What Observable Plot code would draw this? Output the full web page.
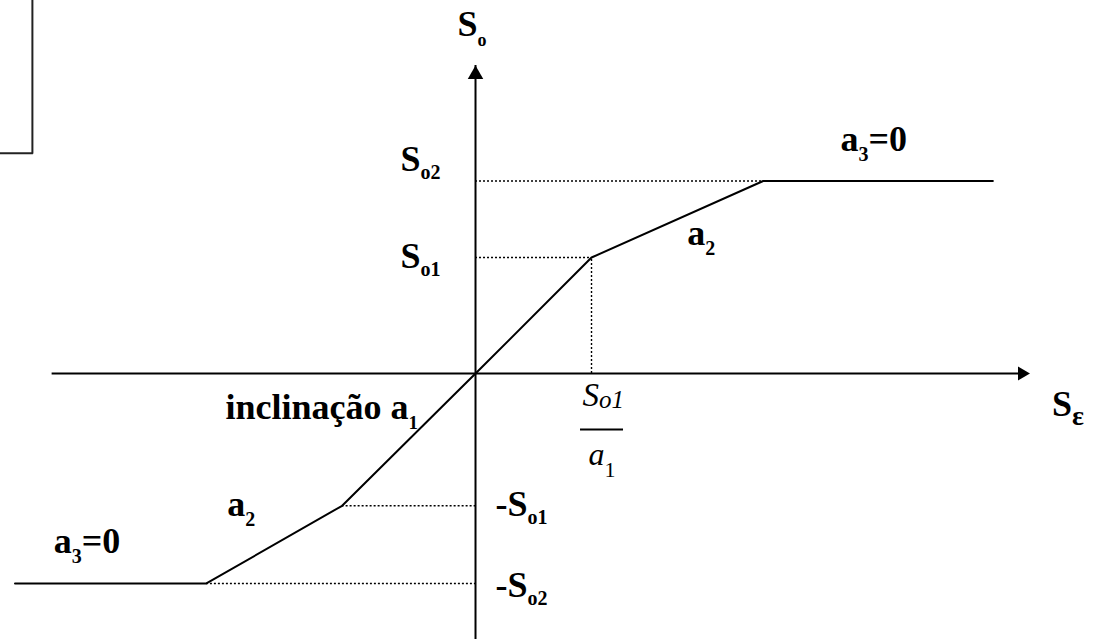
<!DOCTYPE html>
<html>
<head>
<meta charset="utf-8">
<script src="https://cdn.jsdelivr.net/npm/d3@7"></script>
<script src="https://cdn.jsdelivr.net/npm/@observablehq/plot@0.6"></script>
<style>
  html, body { margin: 0; padding: 0; background: #fff; }
</style>
</head>
<body>
<div id="chart"></div>
<script>
// Saturating piecewise-linear characteristic: output S_o versus input S_ε.
const So1 = 1, So2 = 1.66;               // positive output levels
const negSo1 = -1.14, negSo2 = -1.81;    // negative output levels
const eps1 = 1;                          // breakpoint S_o1 / a_1
const curveEps = [-3.97, -2.32, -1.15, 0, 1, 2.48, 4.46];
const curveOut = [-1.81, -1.81, -1.14, 0, 1, 1.66, 1.66];
const xAxisSpan = [-3.65, 4.78];
const yAxisSpan = [-2.3, 2.655];
const boxCorner = [-3.82, 1.9];          // lower-right corner of the inset box
const xDomain = [-4.095, 5.362];
const yDomain = [-2.293, 3.216];

const levelLabels = ["S_{o2}", "S_{o1}", "-S_{o1}", "-S_{o2}"];
const axisLabels = ["S_{o}", "S_{ε}"];
const slopeLabels = ["inclinação a_{1}", "a_{2}", "a_{3}=0"];
const fracLabels = ["S_{o1}", "a_{1}"];

const serif = "Liberation Serif";
const mid = (a, b) => (a + b) / 2;
const curve = curveEps.map((x, i) => ({x, y: curveOut[i]}));

// dotted projections onto the axes
const guidesH = [
  {x1: 0, x2: curveEps[5], y: So2},
  {x1: 0, x2: eps1, y: So1},
  {x1: curveEps[2], x2: 0, y: negSo1},
  {x1: curveEps[1], x2: 0, y: negSo2}
];

// text labels with their offsets and subscript styling
const labels = [
  {text: axisLabels[0], x: 0, y: yAxisSpan[1], dx: -18, dy: -30, size: 36, sub: 18, drop: 10},
  {text: levelLabels[0], x: 0, y: So2, dx: -75, dy: -10, size: 36, sub: 20, drop: 8},
  {text: levelLabels[1], x: 0, y: So1, dx: -75, dy: 10, size: 36, sub: 20, drop: 8},
  {text: levelLabels[2], x: 0, y: negSo1, dx: 20, dy: 10, size: 36, sub: 20, drop: 8},
  {text: levelLabels[3], x: 0, y: negSo2, dx: 20, dy: 14, size: 36, sub: 20, drop: 8},
  {text: axisLabels[1], x: xAxisSpan[1], y: 0, dx: 22, dy: 42, size: 36, sub: 28, drop: 9},
  {text: slopeLabels[0], x: 0, y: 0, dx: -250, dy: 45, size: 36, sub: 19, drop: 10},
  {text: slopeLabels[1], x: mid(curveEps[4], curveEps[5]), y: mid(curveOut[4], curveOut[5]), dx: 10, dy: 26, size: 36, sub: 20, drop: 10},
  {text: slopeLabels[1], x: mid(curveEps[1], curveEps[2]), y: mid(curveOut[1], curveOut[2]), dx: -47, dy: -29, size: 36, sub: 20, drop: 10},
  {text: slopeLabels[2], x: mid(curveEps[5], curveEps[6]), y: So2, dx: -37.5, dy: -30, size: 36, sub: 20, drop: 10},
  {text: slopeLabels[2], x: mid(curveEps[0], curveEps[1]), y: negSo2, dx: -57, dy: -30, size: 36, sub: 20, drop: 10},
  {text: fracLabels[0], x: eps1, y: 0, dx: -9, dy: 32, size: 33, sub: 25, drop: 2, italic: true},
  {text: fracLabels[1], x: eps1, y: 0, dx: -3, dy: 91, size: 32, sub: 22, drop: 12, italic: true, subUpright: true}
];

const textMarks = labels.map(d => Plot.text([d], {
  x: "x", y: "y", text: "text",
  dx: d.dx, dy: d.dy,
  textAnchor: "start", lineAnchor: "bottom",
  fontFamily: serif, fontSize: d.size,
  fontWeight: d.italic ? "normal" : "bold",
  fontStyle: d.italic ? "italic" : "normal",
  fill: "#000"
}));

const dotted = {stroke: "#000", strokeWidth: 1.4, strokeDasharray: "2,2"};

const chart = Plot.plot({
  width: 1097,
  height: 639,
  margin: 0,
  x: {domain: xDomain, axis: null},
  y: {domain: yDomain, axis: null},
  marks: [
    // inset box edge in the upper-left corner
    Plot.ruleX([boxCorner[0]], {y1: boxCorner[1], y2: yDomain[1], stroke: "#222", strokeWidth: 2, strokeLinecap: "square"}),
    Plot.ruleY([boxCorner[1]], {x1: xDomain[0], x2: boxCorner[0], stroke: "#222", strokeWidth: 2, strokeLinecap: "square"}),
    // dotted guides
    Plot.ruleY(guidesH, {y: "y", x1: "x1", x2: "x2", ...dotted}),
    Plot.ruleX([eps1], {y1: 0, y2: So1, ...dotted}),
    // axes
    Plot.ruleY([0], {x1: xAxisSpan[0], x2: xAxisSpan[1], stroke: "#000", strokeWidth: 2, insetRight: 8}),
    Plot.ruleX([0], {y1: yAxisSpan[0], y2: yAxisSpan[1], stroke: "#000", strokeWidth: 2, insetTop: 8}),
    Plot.dot([{x: xAxisSpan[1], y: 0}], {x: "x", y: "y", symbol: "triangle2", r: 6.6, rotate: 90, dx: -8, fill: "#000", stroke: "none"}),
    Plot.dot([{x: 0, y: yAxisSpan[1]}], {x: "x", y: "y", symbol: "triangle2", r: 7.4, dy: 9, fill: "#000", stroke: "none"}),
    // characteristic curve
    Plot.line(curve, {x: "x", y: "y", stroke: "#000", strokeWidth: 2, strokeLinejoin: "miter"}),
    // fraction bar of S_o1 / a_1
    Plot.ruleY([0], {x1: eps1, x2: eps1, dy: 56, insetLeft: -11, insetRight: -32, stroke: "#000", strokeWidth: 2}),
    ...textMarks
  ]
});

document.getElementById("chart").appendChild(chart);

// turn the "_{...}" notation into lowered, smaller tspans
const ns = "http://www.w3.org/2000/svg";
chart.querySelectorAll("text").forEach((el, i) => {
  const d = labels[i];
  if (!d) return;
  const parts = el.textContent.split(/(_\{[^}]*\})/).filter(p => p);
  while (el.firstChild) el.removeChild(el.firstChild);
  let lowered = false;
  for (const p of parts) {
    const ts = document.createElementNS(ns, "tspan");
    const m = p.match(/^_\{(.*)\}$/);
    if (m) {
      ts.textContent = m[1];
      ts.setAttribute("font-size", d.sub);
      ts.setAttribute("dy", d.drop);
      if (d.subUpright) ts.setAttribute("font-style", "normal");
      lowered = true;
    } else {
      ts.textContent = p;
      if (lowered) { ts.setAttribute("dy", -d.drop); lowered = false; }
    }
    el.appendChild(ts);
  }
});
</script>
</body>
</html>
